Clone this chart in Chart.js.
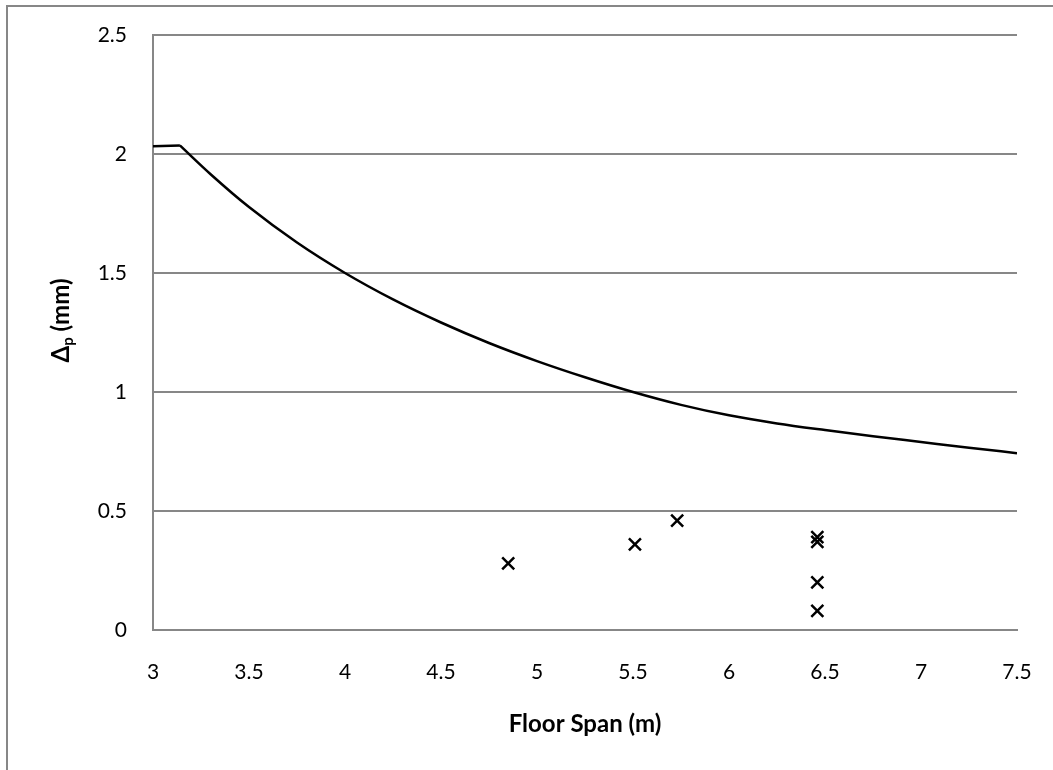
<!DOCTYPE html>
<html>
<head>
<meta charset="utf-8">
<script src="https://cdn.jsdelivr.net/npm/chart.js@4.4.1/dist/chart.umd.min.js"></script>
<style>
  html, body { margin: 0; padding: 0; background: #fff; }
  #wrap { width: 1053px; height: 770px; }
</style>
</head>
<body>
<div id="wrap"><canvas id="spanChart"></canvas></div>
<script>
  // flat start of the limit curve, then the decaying part
  const plateauSpan = [3.0, 3.14];
  const plateauDelta = [2.033, 2.036];

  const limitSpan = [3.14, 3.3, 3.5, 3.75, 4.0, 4.25, 4.5, 4.75, 5.0, 5.25, 5.5, 5.75, 6.0, 6.25, 6.5, 6.75, 7.0, 7.25, 7.5];
  const limitDelta = [2.036, 1.915, 1.777, 1.628, 1.5, 1.389, 1.292, 1.206, 1.13, 1.062, 1.0, 0.946, 0.902, 0.868, 0.84, 0.814, 0.79, 0.766, 0.743];

  // measured floors
  const testSpan = [4.85, 5.51, 5.73, 6.46, 6.46, 6.46, 6.46];
  const testDelta = [0.28, 0.36, 0.46, 0.39, 0.37, 0.20, 0.08];

  const xTicks = [3, 3.5, 4, 4.5, 5, 5.5, 6, 6.5, 7, 7.5];
  const yTicks = [0, 0.5, 1, 1.5, 2, 2.5];

  const gridGrey = "#878787";
  const fontFamily = "Lato, 'Open Sans', sans-serif";

  const toPoints = (xs, ys) => xs.map((x, i) => ({ x, y: ys[i] }));

  // outer frame (only left + top are visible) and the y title with subscript
  const decorPlugin = {
    id: "decor",
    afterDraw(chart) {
      const ctx = chart.ctx;
      ctx.save();
      ctx.strokeStyle = gridGrey;
      ctx.lineWidth = 2;
      ctx.beginPath();
      ctx.moveTo(7, 770);
      ctx.lineTo(7, 6);
      ctx.lineTo(1053, 6);
      ctx.stroke();

      const area = chart.chartArea;
      const cy = (area.top + area.bottom) / 2 - 12;
      ctx.translate(61, cy);
      ctx.rotate(-Math.PI / 2);
      ctx.fillStyle = "#000";
      ctx.textBaseline = "middle";
      const big = "bold 24px " + fontFamily;
      const small = "bold 15px " + fontFamily;
      ctx.font = big;
      const wDelta = ctx.measureText("\u0394").width;
      const wRest = ctx.measureText(" (mm)").width;
      ctx.font = small;
      const wSub = ctx.measureText("p").width;
      let x = -(wDelta + wSub + wRest) / 2;
      ctx.font = big;
      ctx.textAlign = "left";
      ctx.fillText("\u0394", x, 0);
      x += wDelta;
      ctx.font = small;
      ctx.fillText("p", x, 7);
      x += wSub;
      ctx.font = big;
      ctx.fillText(" (mm)", x, 0);
      ctx.restore();
    }
  };

  new Chart(document.getElementById("spanChart").getContext("2d"), {
    type: "scatter",
    data: {
      datasets: [
        {
          label: "plateau",
          data: toPoints(plateauSpan, plateauDelta),
          showLine: true,
          borderColor: "#000",
          borderWidth: 2.5,
          pointRadius: 0,
          tension: 0
        },
        {
          label: "limit",
          data: toPoints(limitSpan, limitDelta),
          showLine: true,
          borderColor: "#000",
          borderWidth: 2.5,
          pointRadius: 0,
          cubicInterpolationMode: "monotone"
        },
        {
          label: "measured",
          data: toPoints(testSpan, testDelta),
          pointStyle: "crossRot",
          pointRadius: 8.5,
          pointBorderWidth: 2.5,
          borderColor: "#000",
          backgroundColor: "#000"
        }
      ]
    },
    options: {
      responsive: true,
      maintainAspectRatio: false,
      animation: false,
      layout: { padding: { left: 0, top: 35, right: 36, bottom: 0 } },
      plugins: { legend: { display: false }, tooltip: { enabled: false } },
      scales: {
        x: {
          type: "linear",
          min: 3,
          max: 7.5,
          afterBuildTicks: (axis) => { axis.ticks = xTicks.map((v) => ({ value: v })); },
          afterFit: (axis) => {
            axis.height = 140;
            axis.paddingLeft = 0;
            axis.paddingRight = 0;
          },
          grid: { display: false, drawTicks: false },
          border: { display: true, color: gridGrey, width: 2 },
          ticks: {
            color: "#000",
            padding: 30,
            maxRotation: 0,
            font: { family: fontFamily, size: 21 },
            callback: (v) => String(v)
          },
          title: {
            display: true,
            text: "Floor Span (m)",
            color: "#000",
            padding: { top: 0, bottom: 31 },
            font: { family: fontFamily, size: 24, weight: "bold" }
          }
        },
        y: {
          type: "linear",
          min: 0,
          max: 2.5,
          afterBuildTicks: (axis) => { axis.ticks = yTicks.map((v) => ({ value: v })); },
          afterFit: (axis) => {
            axis.width = 153;
            axis.paddingTop = 0;
            axis.paddingBottom = 0;
          },
          grid: { color: gridGrey, lineWidth: 2, drawTicks: false },
          border: { display: true, color: gridGrey, width: 2 },
          ticks: {
            color: "#000",
            padding: 26,
            font: { family: fontFamily, size: 21 },
            callback: (v) => String(v)
          }
        }
      }
    },
    plugins: [decorPlugin]
  });
</script>
</body>
</html>
